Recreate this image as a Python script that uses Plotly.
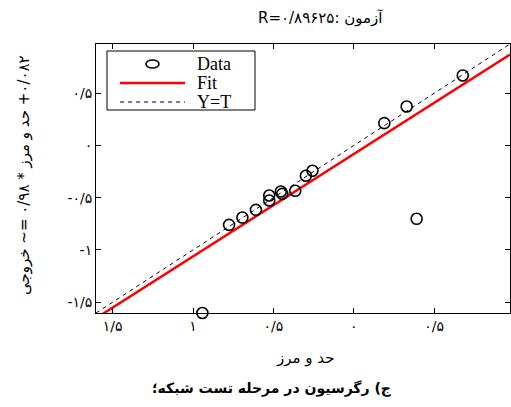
import plotly.graph_objects as go

# Test-stage regression: network output against target values
targets = [-0.942, -0.776, -0.693, -0.609, -0.526, -0.526, -0.454, -0.445,
           -0.364, -0.298, -0.257, 0.190, 0.329, 0.391, 0.678]
outputs = [-1.604, -0.760, -0.690, -0.616, -0.479, -0.527, -0.440, -0.463,
           -0.434, -0.290, -0.242, 0.214, 0.374, -0.702, 0.671]

fit_slope = 0.98
fit_offset = -0.082
axis_lim = [-1.604, 0.972]

x_tickvals = [-1.5, -1.0, -0.5, 0.0, 0.5]
x_ticktext = ["۱/۵", "۱", "۰/۵", "۰", "۰/۵"]
y_tickvals = [-1.5, -1.0, -0.5, 0.0, 0.5]
y_ticktext = ["-۱/۵", "-۱", "-۰/۵", "۰", "۰/۵"]

title_text = "R=۰/۸۹۶۲۵: آزمون"
xlabel_text = "حد و مرز"
ylabel_text = "خروجی\u200e ~= ۰/۹۸ * \u200eحد و مرز\u200e +۰/۰۸۲"
caption_text = "ج) رگرسیون در مرحله تست شبکه؛"

W, H = 511, 407
L, R, T, B = 96, 1, 44, 94
PW, PH = W - L - R, H - T - B

def px(x):
    return (x - L) / PW

def py(y):
    return (H - B - y) / PH

fig = go.Figure()

fig.add_trace(go.Scatter(
    x=axis_lim, y=axis_lim, mode="lines",
    line=dict(color="black", width=1, dash="4px,4px"),
    showlegend=False, hoverinfo="skip"))

fig.add_trace(go.Scatter(
    x=axis_lim, y=[fit_slope * v + fit_offset for v in axis_lim], mode="lines",
    line=dict(color="#ff0000", width=2.5),
    showlegend=False, hoverinfo="skip"))

fig.add_trace(go.Scatter(
    x=targets, y=outputs, mode="markers",
    marker=dict(symbol="circle-open", size=11, color="black", line=dict(width=1.6)),
    cliponaxis=False, showlegend=False))

axis_common = dict(
    range=axis_lim, showline=True, linecolor="black", linewidth=1,
    mirror="allticks", ticks="inside", ticklen=5, tickcolor="black",
    showgrid=False, zeroline=False,
    tickfont=dict(family="DejaVu Sans", size=14, color="black"),
)

fig.update_xaxes(tickvals=x_tickvals, ticktext=x_ticktext, **axis_common)
fig.update_yaxes(tickvals=y_tickvals, ticktext=y_ticktext, **axis_common)

# legend box drawn by hand
shapes = [
    dict(type="rect", xref="paper", yref="paper",
         x0=px(107), x1=px(255), y0=py(51), y1=py(110),
         line=dict(color="black", width=1), fillcolor="white", layer="above"),
    dict(type="circle", xref="paper", yref="paper",
         x0=px(146), x1=px(159), y0=py(60), y1=py(68),
         line=dict(color="black", width=1.6), layer="above"),
    dict(type="line", xref="paper", yref="paper",
         x0=px(120), x1=px(185), y0=py(83), y1=py(83),
         line=dict(color="#ff0000", width=2.5), layer="above"),
    dict(type="line", xref="paper", yref="paper",
         x0=px(120), x1=px(185), y0=py(102), y1=py(102),
         line=dict(color="black", width=1, dash="4px,4px"), layer="above"),
]

serif = dict(family="Liberation Serif", size=18, color="black")
persian = dict(family="DejaVu Sans", size=15, color="black")

annotations = [
    dict(text="Data", x=px(195), y=py(64), xref="paper", yref="paper",
         xanchor="left", yanchor="middle", showarrow=False, font=serif),
    dict(text="Fit", x=px(195), y=py(83), xref="paper", yref="paper",
         xanchor="left", yanchor="middle", showarrow=False, font=serif),
    dict(text="Y=T", x=px(195), y=py(102), xref="paper", yref="paper",
         xanchor="left", yanchor="middle", showarrow=False, font=serif),
    dict(text=title_text, x=px(320), y=py(18), xref="paper", yref="paper",
         xanchor="center", yanchor="middle", showarrow=False, font=persian),
    dict(text=xlabel_text, x=px(305), y=py(358), xref="paper", yref="paper",
         xanchor="center", yanchor="middle", showarrow=False, font=persian),
    dict(text=ylabel_text, x=px(24), y=py(175), xref="paper", yref="paper",
         xanchor="center", yanchor="middle", showarrow=False, textangle=-90,
         font=persian),
    dict(text="<b>" + caption_text + "</b>", x=px(272), y=py(388),
         xref="paper", yref="paper", xanchor="center", yanchor="middle",
         showarrow=False, font=dict(family="DejaVu Sans", size=14, color="black")),
]

fig.update_layout(
    width=W, height=H,
    margin=dict(l=L, r=R, t=T, b=B),
    paper_bgcolor="white", plot_bgcolor="white",
    shapes=shapes, annotations=annotations,
    showlegend=False,
)

fig.write_html("out.html")
